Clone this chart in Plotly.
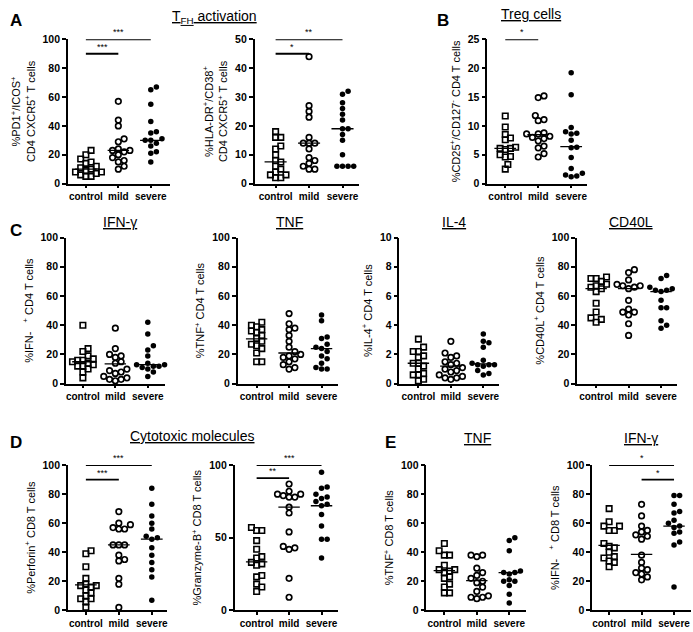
import numpy as np
import plotly.graph_objects as go

W, H = 693, 632
groups = ["control", "mild", "severe"]

# ---------------- data ----------------
a1_control = [23, 20, 17, 15, 14, 12, 11, 10, 9, 8, 8, 7, 6, 5, 5]
a1_mild = [57, 44, 40, 31, 29, 24, 23, 23, 22, 20, 18, 16, 15, 12, 10]
a1_severe = [67, 65, 55, 43, 36, 35, 31, 30, 30, 28, 26, 22, 21, 15]
a1_median = [10, 23, 30]

a2_control = [18, 16, 16, 13, 12, 10, 8, 7.5, 6, 5, 4, 3, 3, 2, 2]
a2_mild = [44, 27, 25, 23, 16, 14, 14, 14, 12, 9, 8, 7, 6, 5, 5]
a2_severe = [32, 31, 28, 26, 24, 22, 19, 19, 17, 15, 10, 6, 6, 6, 6]
a2_median = [7.5, 14, 19]

b_control = [11.7, 9.8, 8.5, 7.9, 7.6, 6.3, 6.1, 6.1, 5.9, 5.0, 4.7, 4.6, 3.3, 2.5]
b_mild = [15.2, 14.9, 11.8, 11.1, 10.9, 8.8, 8.6, 8.6, 8.2, 8.0, 7.8, 7.4, 6.5, 6.2, 5.2, 4.6]
b_severe = [19.2, 15.4, 9.7, 9.0, 8.7, 8.6, 7.5, 6.3, 6.2, 4.5, 2.6, 1.8, 1.5, 1.3, 1.2]
b_median = [6.1, 8.5, 6.4]

c1_control = [40, 24, 22, 19, 17, 16, 16, 15, 14, 13, 12, 12, 10, 8, 4]
c1_mild = [38, 24, 20, 19, 18, 15, 14, 10, 9, 8, 7, 5, 4, 3, 3, 2]
c1_severe = [42, 34, 26, 23, 19, 14, 13, 13, 12, 12, 11, 10, 8, 5]
c1_median = [15, 13.5, 13]

c2_control = [42, 40, 39, 37, 36, 35, 33, 31, 29, 27, 26, 24, 21, 15, 15]
c2_mild = [48, 41, 38, 37, 33, 29, 25, 22, 20, 19, 18, 17, 15, 13, 11, 10]
c2_severe = [47, 43, 32, 31, 27, 25, 24, 22, 19, 17, 14, 11, 10, 10]
c2_median = [30.7, 21, 24]

c3_control = [3.05, 2.5, 2.2, 2.2, 1.9, 1.8, 1.4, 1.4, 1.2, 1.0, 0.7, 0.6, 0.6, 0.3, 0.2]
c3_mild = [2.9, 2.1, 1.9, 1.8, 1.5, 1.4, 1.3, 1.1, 1.0, 0.9, 0.8, 0.6, 0.5, 0.4, 0.4, 0.3]
c3_severe = [3.4, 2.9, 2.8, 2.5, 1.6, 1.6, 1.4, 1.3, 1.3, 1.3, 1.2, 0.9, 0.7, 0.6]
c3_median = [1.4, 1.2, 1.35]

c4_control = [73, 72, 72, 70, 68, 67, 66, 65, 63, 55, 49, 45, 44, 42]
c4_mild = [78, 76, 71, 68, 67, 67, 66, 65, 57, 51, 49, 49, 47, 41, 33]
c4_severe = [74, 72, 66, 66, 65, 64, 64, 63, 57, 52, 52, 43, 40, 38]
c4_median = [65, 65, 63]

d1_control = [41, 39, 30, 22, 18, 17, 17, 16, 14, 12, 10, 8, 8, 6, 2]
d1_mild = [68, 60, 59, 57, 56, 56, 45, 45, 45, 38, 35, 34, 22, 18, 2]
d1_severe = [84, 73, 65, 60, 56, 51, 50, 49, 43, 38, 33, 28, 23, 7]
d1_median = [17.5, 45, 49]

d2_control = [57, 55, 55, 48, 42, 37, 36, 33, 32, 31, 24, 23, 18, 16, 13]
d2_mild = [87, 82, 80, 80, 79, 78, 78, 71, 67, 54, 44, 43, 42, 22, 9]
d2_severe = [95, 85, 84, 80, 78, 77, 75, 73, 72, 66, 58, 49, 49, 36]
d2_median = [33.4, 71, 72]

e1_control = [46, 41, 38, 38, 31, 28, 28, 27, 26, 23, 22, 18, 16, 12, 12]
e1_mild = [38, 38, 37, 29, 26, 24, 22, 20, 19, 16, 13, 10, 9, 9, 8]
e1_severe = [50, 48, 41, 27, 26, 26, 25, 21, 20, 20, 17, 11, 5]
e1_median = [27.3, 20.5, 26]

e2_control = [70, 61, 58, 58, 55, 55, 46, 44, 43, 40, 37, 36, 34, 33, 30]
e2_mild = [73, 65, 58, 55, 54, 52, 51, 49, 38, 33, 29, 28, 26, 25, 23, 21]
e2_severe = [79, 79, 73, 68, 67, 62, 60, 58, 57, 54, 53, 47, 45, 16]
e2_median = [44.7, 38.5, 58]

# ---------------- panel setup ----------------
SUP = "<sup>+</sup>"
panels = [
    dict(data=(a1_control, a1_mild, a1_severe), med=a1_median, geo=(68, 86, 32.5, 170, 34, 181), ymax=100, dtick=20,
         title="%PD1" + SUP + "/ICOS" + SUP + "<br>CD4 CXCR5" + SUP + " T cells",
         bars=[(0, 2, 100, "***"), (0, 1, 90, "***")]),
    dict(data=(a2_control, a2_mild, a2_severe), med=a2_median, geo=(255, 276, 33.5, 360, 34, 181), ymax=50, dtick=10,
         title="%HLA-DR" + SUP + "/CD38" + SUP + "<br>CD4 CXCR5" + SUP + " T cells",
         bars=[(0, 2, 50, "**"), (0, 1, 45, "*")]),
    dict(data=(b_control, b_mild, b_severe), med=b_median, geo=(488, 506, 33, 588, 34, 181), ymax=25, dtick=5,
         title="%CD25" + SUP + "/CD127<sup>-</sup> CD4 T cells",
         bars=[(0, 1, 25, "*")]),
    dict(data=(c1_control, c1_mild, c1_severe), med=c1_median, geo=(66, 83, 32.5, 165, 236, 385), ymax=100, dtick=20,
         title="%IFN-   " + SUP + " CD4 T cells", bars=[]),
    dict(data=(c2_control, c2_mild, c2_severe), med=c2_median, geo=(238, 257, 32.5, 338, 236, 385), ymax=100, dtick=20,
         title="%TNF" + SUP + " CD4 T cells", bars=[]),
    dict(data=(c3_control, c3_mild, c3_severe), med=c3_median, geo=(400, 419, 32.5, 500, 236, 385), ymax=10, dtick=2,
         title="%IL-4" + SUP + " CD4 T cells", bars=[]),
    dict(data=(c4_control, c4_mild, c4_severe), med=c4_median, geo=(578, 597, 32.5, 678, 236, 385), ymax=100, dtick=20,
         title="%CD40L" + SUP + " CD4 T cells", bars=[]),
    dict(data=(d1_control, d1_mild, d1_severe), med=d1_median, geo=(68, 86, 33, 167, 468, 616), ymax=100, dtick=20,
         title="%Perforin" + SUP + " CD8 T cells",
         bars=[(0, 2, 100, "***"), (0, 1, 90, "***")]),
    dict(data=(d2_control, d2_mild, d2_severe), med=d2_median, geo=(235, 257, 32.5, 338, 468, 616), ymax=100, dtick=50,
         title="%Granzyme-B" + SUP + " CD8 T cells",
         bars=[(0, 2, 100, "***"), (0, 1, 91, "**")]),
    dict(data=(e1_control, e1_mild, e1_severe), med=e1_median, geo=(427, 445, 32.5, 527, 468, 616), ymax=100, dtick=20,
         title="%TNF" + SUP + " CD8 T cells", bars=[]),
    dict(data=(e2_control, e2_mild, e2_severe), med=e2_median, geo=(593, 610, 32.5, 692, 468, 616), ymax=100, dtick=20,
         title="%IFN-   " + SUP + " CD8 T cells",
         bars=[(0, 2, 100, "*"), (1, 2, 90, "*")]),
]

FONT = "Arial, Liberation Sans, sans-serif"


def swarm(vals, ppu, spacing, d):
    vals = np.asarray(vals, dtype=float)
    order = np.argsort(vals)
    placed = []
    offs = np.zeros(len(vals))
    step = d * 0.5
    for idx in order:
        y = vals[idx] * ppu
        chosen = 0.0
        for k in range(0, 60):
            found = False
            for sgn in ([1] if k == 0 else [1, -1]):
                off = sgn * k * step
                if all((off - px) ** 2 + (y - py) ** 2 >= d ** 2 for px, py in placed):
                    chosen = off
                    found = True
                    break
            if found:
                break
        placed.append((chosen, y))
        offs[idx] = chosen / spacing
    return offs


fig = go.Figure()
layout = {}
shapes = []
annotations = []

styles = [
    dict(symbol="square-open", size=5.5, line=dict(width=1.6, color="black"), color="black"),
    dict(symbol="circle-open", size=5.5, line=dict(width=1.7, color="black"), color="black"),
    dict(symbol="circle", size=5.5, line=dict(width=0, color="black"), color="black"),
]
swarm_d = [5.2, 5.8, 5.6]

for i, p in enumerate(panels):
    n = i + 1
    xa = "xaxis" if n == 1 else f"xaxis{n}"
    ya = "yaxis" if n == 1 else f"yaxis{n}"
    xr = "x" if n == 1 else f"x{n}"
    yr = "y" if n == 1 else f"y{n}"
    left, ctrl, sp, end, top, bot = p["geo"]
    ppu = (bot - top) / p["ymax"]
    for g, vals in enumerate(p["data"]):
        offs = swarm(vals, ppu, sp, swarm_d[g])
        fig.add_trace(go.Scatter(
            x=g + offs, y=vals, mode="markers", marker=styles[g], xaxis=xr, yaxis=yr,
            showlegend=False, cliponaxis=False, hoverinfo="y"))
        med = p["med"][g]
        fig.add_trace(go.Scatter(
            x=[g - 0.33, g + 0.33], y=[med, med], mode="lines", line=dict(color="black", width=1.3),
            xaxis=xr, yaxis=yr, showlegend=False, cliponaxis=False, hoverinfo="skip"))
    layout[xa] = dict(
        domain=[left / W, end / W], range=[-(ctrl - left) / sp, 2 + (end - (ctrl + 2 * sp)) / sp],
        tickvals=[0, 1, 2], ticktext=groups, tickangle=0, showline=True, linecolor="black", linewidth=1.5,
        ticks="outside", ticklen=3, tickwidth=1.5, tickcolor="black", showgrid=False, zeroline=False,
        anchor=yr, tickfont=dict(family=FONT, size=10, color="black", weight="bold"), fixedrange=True)
    layout[ya] = dict(
        domain=[1 - bot / H, 1 - top / H], range=[0, p["ymax"]], dtick=p["dtick"], tick0=0,
        showline=True, linecolor="black", linewidth=1.5, ticks="outside", ticklen=4, tickwidth=1.5,
        tickcolor="black", showgrid=False, zeroline=False, anchor=xr,
        tickfont=dict(family=FONT, size=10.5, color="black", weight="bold"),
        title=dict(text=p["title"], font=dict(family=FONT, size=11, color="black"), standoff=5),
        fixedrange=True)
    for (a, b, yv, star) in p["bars"]:
        shapes.append(dict(type="line", xref=xr, yref=yr, x0=a, x1=b, y0=yv, y1=yv,
                           line=dict(color="black", width=1.8)))
        annotations.append(dict(xref=xr, yref=yr, x=(a + b) / 2, y=yv, text=star, showarrow=False,
                                yanchor="bottom", yshift=0, font=dict(family=FONT, size=9, color="black")))


def txt(x, y, s, size, bold=False, xanchor="center"):
    annotations.append(dict(xref="paper", yref="paper", x=x / W, y=1 - y / H, text=s, showarrow=False,
                            xanchor=xanchor, yanchor="middle",
                            font=dict(family=FONT, size=size, color="black", weight="bold" if bold else "normal")))


txt(8, 15, "A", 17, True, "left")
txt(436, 15, "B", 17, True, "left")
txt(8, 229, "C", 17, True, "left")
txt(8, 445, "D", 17, True, "left")
txt(384, 445, "E", 17, True, "left")

txt(215, 11, "<u>T<sub>FH</sub> activation</u>", 14)
txt(532, 8, "<u>Treg cells</u>", 14)
txt(120, 220, "<u>IFN-γ</u>", 14)
txt(290, 220, "<u>TNF</u>", 14)
txt(455, 220, "<u>IL-4</u>", 14)
txt(632, 220, "<u>CD40L</u>", 14)
txt(193, 438, "<u>Cytotoxic molecules</u>", 14)
txt(478, 440, "<u>TNF</u>", 14)
txt(642, 440, "<u>IFN-γ</u>", 14)

fig.update_layout(
    width=W, height=H, margin=dict(l=0, r=0, t=0, b=0), plot_bgcolor="white", paper_bgcolor="white",
    shapes=shapes, annotations=annotations, font=dict(family=FONT, color="black"), **layout)

fig.write_html("out.html", config={"displayModeBar": False},
               post_script="document.body.style.margin='0';document.body.style.overflow='hidden';")
